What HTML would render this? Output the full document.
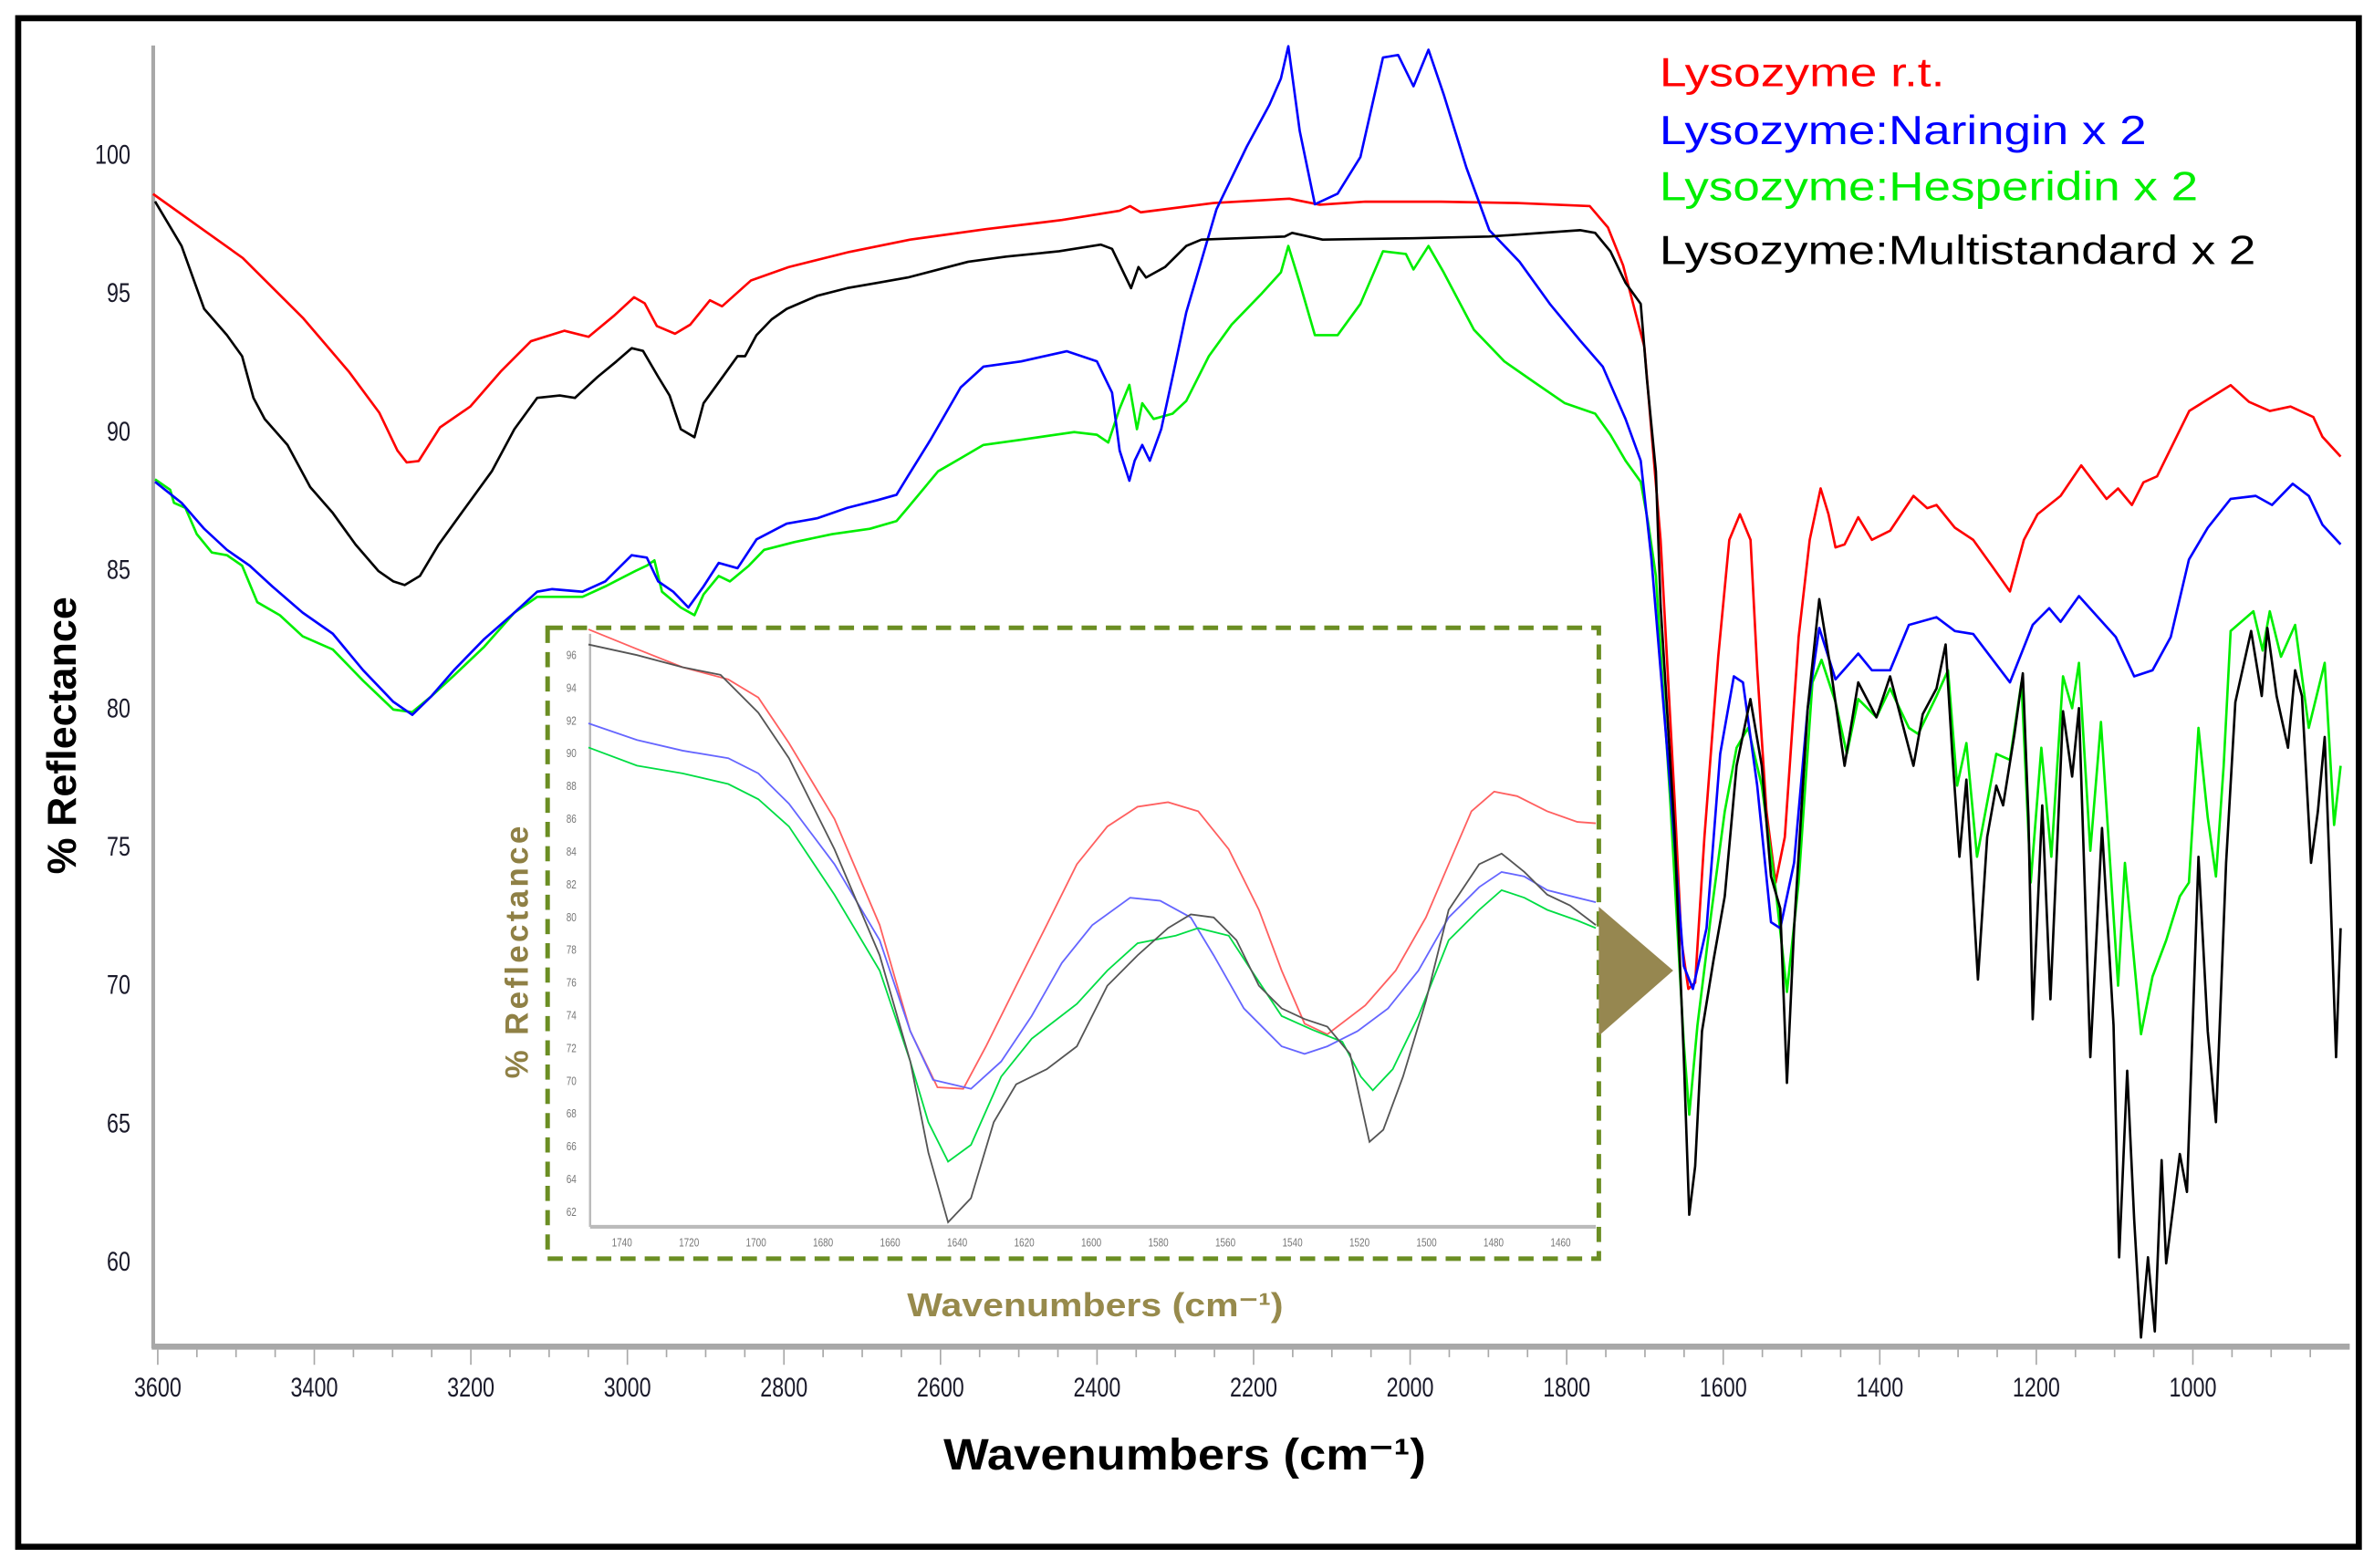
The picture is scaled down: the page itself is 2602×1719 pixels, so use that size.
<!DOCTYPE html>
<html><head><meta charset="utf-8">
<style>
html,body{margin:0;padding:0;background:#fff;}
svg{display:block;}
text{font-family:"Liberation Sans",sans-serif;}
</style></head>
<body>
<svg id="chart" width="2602" height="1719" viewBox="0 0 1565 1034" preserveAspectRatio="none" xmlns="http://www.w3.org/2000/svg">
  <rect x="12" y="12" width="1543" height="1008" fill="#fff" stroke="#000" stroke-width="4"/>
  <g id="mainAxes"></g>
  <g id="mainSeries"></g>
  <g id="inset"></g>
  <polygon points="1054,598 1054,683 1103,640" fill="#968750"/>
  <text transform="translate(50,485) rotate(-90)" text-anchor="middle" font-size="27" font-weight="bold" fill="#000">% Reflectance</text>
  <text x="622" y="969" font-size="29" font-weight="bold" textLength="318" lengthAdjust="spacingAndGlyphs" fill="#000">Wavenumbers (cm⁻¹)</text>
  <g font-size="27">
    <text x="1094" y="57" fill="#ff0000" textLength="188" lengthAdjust="spacingAndGlyphs">Lysozyme r.t.</text>
    <text x="1094" y="95" fill="#0000ff" textLength="321" lengthAdjust="spacingAndGlyphs">Lysozyme:Naringin x 2</text>
    <text x="1094" y="132" fill="#00ee00" textLength="355" lengthAdjust="spacingAndGlyphs">Lysozyme:Hesperidin x 2</text>
    <text x="1094" y="174" fill="#000" textLength="393" lengthAdjust="spacingAndGlyphs">Lysozyme:Multistandard x 2</text>
  </g>
</svg>
<script>
// ---------- MAIN CHART DATA ----------
const xTicks = [3600,3400,3200,3000,2800,2600,2400,2200,2000,1800,1600,1400,1200,1000];
const yTicks = [100,95,90,85,80,75,70,65,60];

const redWn = [3606,3491.5,3414,3355.8,3317,3293.8,3282,3266.7,3239.5,3200.8,3162,3123.3,3080.6,3049.6,3016.7,2991.5,2977.9,2962.4,2939.1,2919.8,2894.6,2879,2842.3,2793.8,2716.3,2638.8,2541.9,2444.9,2371.3,2357.7,2344.2,2251.2,2154.3,2115.5,2057.4,1960.5,1863.6,1770.5,1747.3,1727.9,1700.8,1680,1662.2,1653.5,1644.5,1635.8,1624,1606.4,1592.2,1578.6,1565.1,1556.5,1544.7,1533.1,1521.3,1503.6,1489.5,1475.6,1465.5,1456.5,1445,1427.5,1410.1,1386.8,1356.9,1339.3,1327.5,1304.1,1280.6,1256.9,1233.7,1215.8,1198.4,1169,1142.6,1110.2,1095.6,1077.9,1063.2,1045.8,1004.7,951.8,928.3,901.8,875.2,846.1,834.5,811.3];
const redPct = [98.58,96.27,94.08,92.16,90.68,89.31,88.88,88.93,90.14,90.9,92.16,93.26,93.64,93.42,94.19,94.85,94.63,93.81,93.53,93.86,94.74,94.52,95.45,95.94,96.49,96.93,97.31,97.64,97.97,98.14,97.92,98.25,98.41,98.19,98.3,98.3,98.25,98.14,97.37,96,93.06,86.08,76.71,71.61,69.86,70.08,75.34,81.86,86.08,87.01,86.08,81.42,76.27,73.7,75.34,82.57,86.08,87.94,87.01,85.81,85.92,86.9,86.08,86.41,87.67,87.23,87.34,86.52,86.08,85.15,84.22,86.08,87.01,87.67,88.77,87.56,87.94,87.34,88.16,88.38,90.74,91.67,91.07,90.74,90.9,90.52,89.81,89.09];

const blueWn = [3603.5,3569.6,3540.7,3511.6,3482.6,3453.7,3414.9,3376.4,3337.6,3299,3274.8,3250.6,3221.7,3182.9,3144.4,3115.3,3096.1,3057.4,3028.3,2994.6,2975.2,2960.7,2941.5,2922.1,2902.7,2883.3,2859.3,2835.1,2796.5,2757.8,2719.2,2680.4,2656.2,2641.8,2612.8,2574.2,2545.1,2496.9,2438.7,2400.2,2380.8,2371.2,2358.7,2351.9,2342.2,2332.5,2318.1,2303.5,2286,2247.4,2208.7,2179.8,2165.2,2155.6,2141.1,2121.7,2092.6,2063.5,2034.6,2015.3,1995.8,1976.5,1957.2,1928.1,1898.9,1860.3,1821.6,1782.9,1753.8,1724.8,1705.5,1691.6,1667.8,1650.4,1638.7,1621.3,1603.8,1586.4,1574.8,1556.5,1538.9,1527.1,1509.5,1492,1477.3,1456.5,1427.5,1410.1,1386.8,1362.8,1327.5,1304.1,1280.6,1233.7,1204.6,1183.6,1168.9,1145.5,1098.4,1075,1051.5,1028.3,1005,981,951.8,919.8,898.9,872.5,852,834.5,811.3];
const bluePct = [88.18,87.42,86.48,85.72,85.15,84.4,83.45,82.69,81.37,80.23,79.76,80.43,81.37,82.5,83.45,84.21,84.3,84.21,84.58,85.53,85.44,84.58,84.21,83.64,84.4,85.25,85.06,86.1,86.67,86.86,87.24,87.52,87.71,88.37,89.7,91.59,92.34,92.53,92.9,92.53,91.4,89.31,88.22,88.94,89.51,88.94,90.08,91.97,94.3,98.02,100.29,101.8,102.75,103.92,100.86,98.21,98.59,99.91,103.51,103.6,102.47,103.79,102.18,99.53,97.27,96.13,94.61,93.29,92.34,90.45,88.94,85.37,77.2,70.68,69.86,72.05,78.35,81.15,80.93,77.2,72.27,72.05,74.41,80,82.9,81.04,81.97,81.37,81.37,83.01,83.29,82.79,82.68,80.93,83.01,83.61,83.12,84.05,82.57,81.15,81.37,82.57,85.37,86.52,87.56,87.67,87.34,88.11,87.67,86.63,85.92];

const greenWn = [3603.5,3584.1,3579.3,3564.7,3550.2,3531,3511.6,3492.3,3472.9,3444,3414.9,3376.4,3337.6,3299,3274.8,3250.6,3221.7,3182.9,3144.4,3115.3,3057.4,3028.3,2989.7,2975.2,2965.5,2955.8,2931.8,2914.3,2902.7,2883.3,2869,2844.8,2825.4,2786.8,2738.4,2690.1,2656.2,2641.8,2603.1,2574.2,2545.1,2496.9,2429.2,2400.2,2385.7,2371.2,2358.7,2349,2342.2,2327.7,2303.5,2286,2257.1,2228.1,2189.4,2165.2,2155.6,2141.1,2121.7,2092.6,2063.5,2034.6,2005.5,1995.8,1976.5,1957.2,1918.4,1879.7,1841,1802.3,1763.5,1744.1,1724.8,1705.5,1695.8,1686.1,1667.8,1650.4,1643.4,1632.9,1615.5,1598.1,1583,1568.2,1550.8,1533.1,1518.6,1503.6,1486,1474.4,1456.5,1442,1427.5,1404.3,1386.8,1362.8,1351,1327.5,1312.8,1301.1,1289.3,1275.7,1251.1,1233.7,1218.9,1207.1,1193.6,1180.8,1165.9,1154.3,1145.5,1131,1117.4,1095.5,1086.8,1066.2,1051.5,1034.1,1016.7,1005,992.8,981,970.6,960.6,951.8,922.6,910.8,901.8,887.4,869.4,852,831.5,819.6,811.3];
const greenPct = [88.27,87.89,87.42,87.24,86.29,85.63,85.53,85.15,83.83,83.36,82.6,82.12,80.99,79.95,79.86,80.43,81.18,82.22,83.45,84.02,84.02,84.4,84.96,85.15,85.34,84.21,83.64,83.36,84.11,84.78,84.58,85.15,85.72,86,86.29,86.48,86.76,87.24,88.56,89.03,89.51,89.7,89.98,89.88,89.6,90.83,91.68,90.08,91.02,90.45,90.64,91.1,92.72,93.86,94.99,95.75,96.7,95.37,93.48,93.48,94.61,96.51,96.41,95.85,96.7,95.75,93.67,92.53,91.77,91.02,90.64,89.88,88.94,88.18,86.67,84.78,76.71,67.89,65.31,68.54,72.55,76.27,78.57,79.29,77.2,73.48,69.75,73.7,80.93,81.75,80.22,78.35,80.33,79.67,80.71,79.29,79.07,80.44,81.37,77.2,78.74,74.63,78.35,78.13,80.93,73.7,78.57,74.63,81.15,80,81.64,74.85,79.5,69.97,74.41,68.22,70.3,71.61,73.2,73.7,79.29,76.05,73.92,77.92,82.79,83.5,82.08,83.5,81.86,83.01,79.29,81.64,75.78,77.92];

const blackWn = [3603.5,3569.6,3540.7,3511.6,3492.3,3477.7,3463.4,3434.3,3405.2,3376.4,3347.3,3318.2,3299,3284.5,3265.1,3241.1,3212,3173.2,3144.4,3115.3,3086.4,3067.1,3038,3014,2994.6,2980,2960.7,2946.1,2931.8,2914.3,2902.7,2873.8,2859.3,2849.6,2835.1,2815.7,2796.5,2757.8,2719.2,2680.4,2641.8,2564.5,2516.1,2448.4,2395.3,2380.8,2356.6,2347.1,2337.4,2313.2,2286,2266.7,2160.3,2150.7,2111.9,1995.8,1898.9,1782.9,1763.5,1744.1,1724.8,1705.4,1697.5,1686,1680,1662.3,1650.4,1643.4,1635.9,1627.2,1612.4,1598.1,1583,1565.3,1550.8,1538.9,1527.1,1518.6,1509.5,1492,1477.3,1462.4,1445,1427.5,1404.3,1386.8,1357,1345.2,1327.5,1315.9,1307.4,1298.3,1289.3,1274.6,1262.7,1251.1,1242.4,1227.9,1217.3,1210.1,1204.6,1192.4,1182,1165.9,1154.3,1145.5,1131,1116.1,1101.4,1094.2,1084,1075,1066.2,1057.4,1048.6,1039.9,1034.1,1016.7,1007.6,992.8,981,970.6,957.6,945.8,925.6,912.1,904.9,893.1,878.4,869.4,860.7,849.1,840.4,831.5,825.6,817.1,811.3];
const blackPct = [98.31,96.7,94.43,93.48,92.72,91.21,90.45,89.51,87.99,87.05,85.91,84.96,84.58,84.45,84.78,85.91,87.05,88.56,90.08,91.21,91.3,91.21,91.97,92.53,93.01,92.91,91.97,91.3,90.08,89.79,91.02,92.15,92.72,92.72,93.48,94.05,94.43,94.9,95.18,95.37,95.56,96.13,96.32,96.51,96.75,96.6,95.18,95.94,95.56,95.94,96.7,96.93,97.04,97.17,96.93,96.98,97.04,97.27,97.17,96.51,95.37,94.61,91.89,88.56,83.72,75.56,67.39,61.7,63.45,68.33,70.9,73.2,77.92,80.33,77.92,73.92,72.76,66.46,72.05,80,83.94,81.37,77.92,80.93,79.67,81.15,77.92,79.78,80.71,82.3,78.35,74.63,77.42,70.19,75.34,77.2,76.49,79.07,81.26,76.05,68.76,76.49,69.48,79.89,77.53,80,67.39,75.67,68.54,60.16,66.9,61.53,57.26,60.16,57.48,63.67,59.94,63.89,62.52,74.63,68.33,65.04,74.41,80.22,82.79,80.44,82.9,80.44,78.57,81.37,80.44,74.41,76.27,78.96,74.41,67.39,72.05];

// ---------- INSET DATA ----------
const insetXTicks = [1740,1720,1700,1680,1660,1640,1620,1600,1580,1560,1540,1520,1500,1480,1460];
const insetYTicks = [96,94,92,90,88,86,84,82,80,78,76,74,72,70,68,66,64,62];

const insetRedWn = [1750,1735.5,1721.9,1708.3,1699.3,1690.2,1676.6,1663.1,1654,1645.9,1638.2,1631.4,1622.4,1613.3,1604.3,1595.2,1586.2,1577.1,1568.1,1559,1550,1543.2,1536.4,1529.6,1518.3,1509.2,1500.2,1493.4,1486.6,1479.8,1473,1464,1455,1449.5];
const insetRedPct = [97.54,96.33,95.22,94.48,93.37,90.59,85.96,79.48,73,69.57,69.48,72.07,75.78,79.48,83.19,85.5,86.7,86.98,86.43,84.11,80.41,76.7,73.46,72.81,74.57,76.7,79.94,83.19,86.43,87.63,87.35,86.43,85.78,85.69];
const insetBlueWn = [1750,1735.5,1721.9,1708.3,1699.3,1690.2,1676.6,1663.1,1654,1647.2,1635.9,1626.9,1617.8,1608.8,1599.7,1588.4,1579.4,1570.3,1563.5,1554.5,1543.2,1536.4,1529.6,1520.6,1511.5,1502.4,1493.4,1484.3,1477.6,1470.8,1464,1455,1449.5];
const insetBluePct = [91.8,90.78,90.13,89.67,88.74,86.89,83.19,78.56,73,70.03,69.48,71.15,73.93,77.17,79.48,81.15,80.96,79.94,77.63,74.39,72.07,71.61,72.07,73,74.39,76.7,79.94,81.8,82.72,82.44,81.61,81.15,80.87];
const insetGreenWn = [1750,1735.5,1721.9,1708.3,1699.3,1690.2,1676.6,1663.1,1654,1648.6,1642.7,1635.9,1626.9,1617.8,1604.3,1595.2,1586.2,1574.8,1568.1,1559,1552.2,1543.2,1534.1,1525.1,1519.6,1516,1510.1,1502.4,1493.4,1484.3,1477.6,1470.8,1464,1455,1449.5];
const insetGreenPct = [90.32,89.21,88.74,88.09,87.17,85.5,81.33,76.7,71.15,67.44,65.04,66.06,70.22,72.54,74.67,76.7,78.37,78.83,79.3,78.83,76.7,73.93,73.09,72.35,70.22,69.39,70.68,73.93,78.56,80.41,81.61,81.15,80.41,79.76,79.3];
const insetBlackWn = [1750,1735.5,1721.9,1710.6,1699.3,1690.2,1676.6,1663.1,1654,1648.6,1642.7,1635.9,1629.1,1622.4,1613.3,1604.3,1595.2,1586.2,1577.1,1570.3,1563.5,1556.7,1550,1543.2,1536.4,1529.6,1522.8,1517,1512.9,1507,1500.2,1493.4,1484.3,1477.6,1470.8,1464,1457.2,1449.5];
const insetBlackPct = [96.61,95.96,95.22,94.76,92.44,89.67,84.11,77.63,71.15,65.59,61.33,62.81,67.44,69.76,70.68,72.07,75.78,77.63,79.3,80.13,79.94,78.56,75.78,74.39,73.74,73.28,71.61,66.24,66.98,70.22,74.85,80.41,83.19,83.84,82.72,81.33,80.68,79.48];

const NS = "http://www.w3.org/2000/svg";
function mk(tag, attrs, parent){ const e=document.createElementNS(NS,tag); for(const k in attrs) e.setAttribute(k,attrs[k]); parent.appendChild(e); return e; }

// main scales
const X0=104, XK=0.516; // px per wavenumber
function xs(w){ return X0 + (3600 - w)*XK; }
function ys(v){ return 102 + (100 - v)*18.25; }

const axes = document.getElementById('mainAxes');
const yAxis = mk('line',{x1:101,y1:30,x2:101,y2:889,stroke:'#a8a8a8','stroke-width':2.5},axes);


const xAxis = mk('line',{x1:100,y1:888,x2:1549,y2:888,stroke:'#a8a8a8','stroke-width':4},axes);


for(let w=3600; w>=820; w-=50){
  const major = (w%200===0);
  const t = mk('line',{x1:xs(w),y1:890,x2:xs(w),y2:major?900:895,stroke:'#a8a8a8','stroke-width':1},axes);
  
  
}
xTicks.forEach(w=>{
  const t = mk('text',{x:xs(w),y:921,'text-anchor':'middle','font-size':18,fill:'#1a1a2a',transform:`translate(${xs(w)},0) scale(0.78,1) translate(${-xs(w)},0)`},axes);
  t.textContent = w;
  
  
});
yTicks.forEach(v=>{
  const t = mk('text',{x:86,y:ys(v)+6,'text-anchor':'end','font-size':18,fill:'#1a1a2a',transform:`translate(86,0) scale(0.78,1) translate(-86,0)`},axes);
  t.textContent = v;
  
  
});

function pathD(wn, pct, fx, fy){ return wn.map((w,i)=>(i?'L':'M')+fx(w).toFixed(1)+' '+fy(pct[i]).toFixed(1)).join(' '); }

const ms = document.getElementById('mainSeries');
const s1 = mk('path',{d:pathD(redWn,redPct,xs,ys),fill:'none',stroke:'#ff0000','stroke-width':1.6,'stroke-linejoin':'round'},ms);


const s2 = mk('path',{d:pathD(greenWn,greenPct,xs,ys),fill:'none',stroke:'#00ee00','stroke-width':1.6,'stroke-linejoin':'round'},ms);


const s3 = mk('path',{d:pathD(blueWn,bluePct,xs,ys),fill:'none',stroke:'#0000ff','stroke-width':1.6,'stroke-linejoin':'round'},ms);


const s4 = mk('path',{d:pathD(blackWn,blackPct,xs,ys),fill:'none',stroke:'#000','stroke-width':1.6,'stroke-linejoin':'round'},ms);



// inset scales
function xi(w){ return 410 + (1740 - w)*2.21; }
function yi(v){ return 431.6 + (96 - v)*10.8; }
const ins = document.getElementById('inset');
const ibg = mk('rect',{x:361,y:414,width:693,height:416,fill:'#fff',stroke:'#6b8e23','stroke-width':3,'stroke-dasharray':'10 6'},ins);


const iya = mk('line',{x1:389,y1:418,x2:389,y2:809,stroke:'#bbb','stroke-width':1.5},ins);


const ixa = mk('line',{x1:389,y1:809,x2:1052,y2:809,stroke:'#bbb','stroke-width':2.5},ins);


insetXTicks.forEach(w=>{
  const t = mk('text',{x:xi(w),y:822,'text-anchor':'middle','font-size':8,fill:'#777',transform:`translate(${xi(w)},0) scale(0.75,1) translate(${-xi(w)},0)`},ins);
  t.textContent = w;
  
  
});
insetYTicks.forEach(v=>{
  const t = mk('text',{x:380,y:yi(v)+3,'text-anchor':'end','font-size':8,fill:'#777',transform:`translate(380,0) scale(0.75,1) translate(-380,0)`},ins);
  t.textContent = v;
  
  
});
const i1 = mk('path',{d:pathD(insetRedWn,insetRedPct,xi,yi),fill:'none',stroke:'#ff6060','stroke-width':1.1},ins);


const i2 = mk('path',{d:pathD(insetBlueWn,insetBluePct,xi,yi),fill:'none',stroke:'#6666ff','stroke-width':1.1},ins);


const i3 = mk('path',{d:pathD(insetGreenWn,insetGreenPct,xi,yi),fill:'none',stroke:'#00dd44','stroke-width':1.1},ins);


const i4 = mk('path',{d:pathD(insetBlackWn,insetBlackPct,xi,yi),fill:'none',stroke:'#555','stroke-width':1.1},ins);


const iyt = mk('text',{transform:'translate(348,627) rotate(-90)','text-anchor':'middle','font-size':21,'font-weight':'bold',fill:'#8f8045','letter-spacing':'2'},ins);
iyt.textContent = '% Reflectance';


const ixt = mk('text',{x:598,y:868,'font-size':22,'font-weight':'bold',fill:'#978a4c',textLength:248,lengthAdjust:'spacingAndGlyphs'},ins);
ixt.textContent = 'Wavenumbers (cm⁻¹)';


</script>
</body></html>
